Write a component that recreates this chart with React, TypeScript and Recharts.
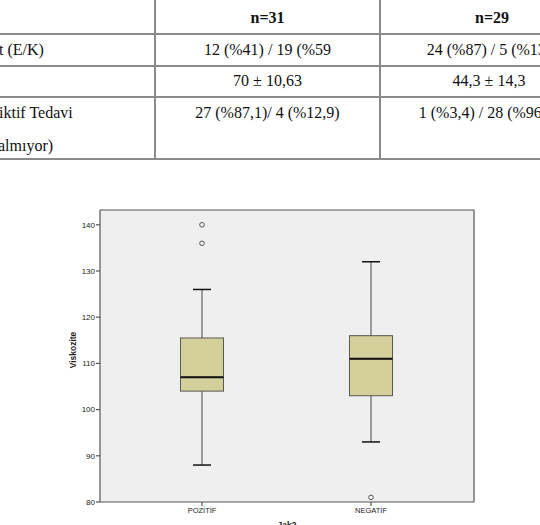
import React from "react";
import {
  ComposedChart,
  Bar,
  Scatter,
  XAxis,
  YAxis,
  CartesianGrid,
  Label,
} from "recharts";

// table (top of the page, cut off on both sides)
const headerCounts = ["n=31", "n=29"];
const rowLabels = ["t (E/K)", "", "iktif Tedavi"];
const colPositive = ["12 (%41) / 19 (%59", "70 ± 10,63", "27 (%87,1)/ 4 (%12,9)"];
const colNegative = ["24 (%87) / 5 (%13)", "44,3 ± 14,3", "1 (%3,4) / 28 (%96,6)"];
const lastRowSecondLine = "almıyor)";

// boxplot
const groups = ["POZİTİF", "NEGATİF"];
const whiskerLow = [88, 93];
const q1 = [104, 103];
const median = [107, 111];
const q3 = [115.5, 116];
const whiskerHigh = [126, 132];

const outlierGroups = ["POZİTİF", "POZİTİF", "NEGATİF"];
const outlierValues = [140, 136, 81];

const yTicks = [80, 90, 100, 110, 120, 130, 140];

const rows = groups.map((g, i) => ({
  group: g,
  base: whiskerLow[i],
  lowW: q1[i] - whiskerLow[i],
  lowBox: median[i] - q1[i],
  upBox: q3[i] - median[i],
  upW: whiskerHigh[i] - q3[i],
}));

const outliers = outlierGroups.map((g, i) => ({ group: g, v: outlierValues[i] }));

const BOX = "#d3d09b";
const EDGE = "#5a5a50";
const CAP = 9;

function LowWhisker(p: any) {
  const cx = p.x + p.width / 2;
  const bottom = p.y + p.height;
  return (
    <g>
      <line x1={cx} x2={cx} y1={p.y} y2={bottom} stroke="#444" />
      <line x1={cx - CAP} x2={cx + CAP} y1={bottom} y2={bottom} stroke="#111" strokeWidth={1.5} />
    </g>
  );
}

function HighWhisker(p: any) {
  const cx = p.x + p.width / 2;
  return (
    <g>
      <line x1={cx} x2={cx} y1={p.y} y2={p.y + p.height} stroke="#444" />
      <line x1={cx - CAP} x2={cx + CAP} y1={p.y} y2={p.y} stroke="#111" strokeWidth={1.5} />
    </g>
  );
}

function LowerBox(p: any) {
  return <rect x={p.x} y={p.y} width={p.width} height={p.height} fill={BOX} stroke={EDGE} />;
}

function UpperBox(p: any) {
  const bottom = p.y + p.height;
  return (
    <g>
      <rect x={p.x} y={p.y} width={p.width} height={p.height} fill={BOX} stroke={EDGE} />
      <line x1={p.x} x2={p.x + p.width} y1={bottom} y2={bottom} stroke="#111" strokeWidth={2} />
    </g>
  );
}

function Outlier(p: any) {
  return <circle cx={p.cx} cy={p.cy} r={2.3} fill="#f2f2f2" stroke="#555" strokeWidth={1} />;
}

function YTitle(props: any) {
  const vb = props.viewBox;
  const x = vb.x + 73;
  const y = vb.y + vb.height / 2 - 6;
  return (
    <text
      x={x}
      y={y}
      transform={`rotate(-90 ${x} ${y})`}
      textAnchor="middle"
      dominantBaseline="central"
      fontSize={8.5}
      fontWeight={700}
      fill="#222"
    >
      Viskozite
    </text>
  );
}

function XTitle(props: any) {
  const vb = props.viewBox;
  return (
    <text
      x={vb.x + vb.width / 2}
      y={vb.y + 20}
      textAnchor="middle"
      dominantBaseline="hanging"
      fontSize={8.5}
      fontWeight={700}
      fill="#222"
    >
      Jak2
    </text>
  );
}

function Txt(props: { x: number; y: number; text: string; bold?: boolean }) {
  return (
    <div
      style={{
        position: "absolute",
        left: props.x,
        top: props.y - 8,
        fontSize: 16,
        lineHeight: "16px",
        whiteSpace: "nowrap",
        fontWeight: props.bold ? 700 : 400,
      }}
    >
      {props.text}
    </div>
  );
}

function Centered(props: { cx: number; y: number; text: string; bold?: boolean }) {
  return (
    <div
      style={{
        position: "absolute",
        left: props.cx - 150,
        width: 300,
        textAlign: "center",
        top: props.y - 8,
        fontSize: 16,
        lineHeight: "16px",
        whiteSpace: "nowrap",
        fontWeight: props.bold ? 700 : 400,
      }}
    >
      {props.text}
    </div>
  );
}

const line = "#8a8a8a";

// frame of the plot area: top edge and right edge
const topEdge = ({ offset }: any) => [offset.top];
const rightEdge = ({ offset }: any) => [offset.left + offset.width];

export default function App() {
  const rowY = [50, 81, 113];
  return (
    <div
      style={{
        position: "absolute",
        left: 0,
        top: 0,
        width: 540,
        height: 525,
        overflow: "hidden",
        background: "#fff",
        color: "#111",
        fontFamily: "'Liberation Serif', 'Times New Roman', serif",
      }}
    >
      {/* table grid */}
      {[32.5, 65, 96, 158].map((y) => (
        <div key={y} style={{ position: "absolute", left: 0, top: y, width: 540, height: 2, background: line }} />
      ))}
      {[154, 379].map((x) => (
        <div key={x} style={{ position: "absolute", left: x, top: 0, width: 2, height: 160, background: line }} />
      ))}

      <Centered cx={267.5} y={18.3} text={headerCounts[0]} bold />
      <Centered cx={492} y={18.3} text={headerCounts[1]} bold />
      {rowLabels.map((t, i) => (t ? <Txt key={i} x={-1} y={rowY[i]} text={t} /> : null))}
      {colPositive.map((t, i) => (
        <Centered key={i} cx={267.5} y={rowY[i]} text={t} />
      ))}
      {colNegative.map((t, i) => (
        <Centered key={i} cx={489} y={rowY[i]} text={t} />
      ))}
      <Txt x={-2} y={145.5} text={lastRowSecondLine} />

      {/* boxplot */}
      <div style={{ position: "absolute", left: 0, top: 190 }}>
        <ComposedChart
          width={540}
          height={345}
          data={rows}
          margin={{ top: 20, right: 66, bottom: 0, left: 0 }}
          barSize={43}
          style={{ fontFamily: "'Liberation Sans', Arial, sans-serif" }}
        >
          <CartesianGrid
            fill="#efefef"
            stroke="#555"
            strokeWidth={1.2}
            horizontalCoordinatesGenerator={topEdge}
            verticalCoordinatesGenerator={rightEdge}
          />
          <XAxis
            dataKey="group"
            allowDuplicatedCategory={false}
            padding={{ left: 17.5, right: 18.5 }}
            height={33}
            tickSize={4}
            tickMargin={2}
            tick={{ fontSize: 7.5, fill: "#222" }}
            stroke="#555"
            strokeWidth={1.2}
          >
            <Label content={XTitle} />
          </XAxis>
          <YAxis
            domain={[80, 143.2]}
            ticks={yTicks}
            allowDataOverflow
            width={100}
            tickSize={4}
            tickMargin={1}
            tick={{ fontSize: 8, fill: "#222" }}
            stroke="#555"
            strokeWidth={1.2}
          >
            <Label content={YTitle} />
          </YAxis>
          <Bar dataKey="base" stackId="box" fill="none" isAnimationActive={false} />
          <Bar dataKey="lowW" stackId="box" shape={LowWhisker} isAnimationActive={false} />
          <Bar dataKey="lowBox" stackId="box" shape={LowerBox} isAnimationActive={false} />
          <Bar dataKey="upBox" stackId="box" shape={UpperBox} isAnimationActive={false} />
          <Bar dataKey="upW" stackId="box" shape={HighWhisker} isAnimationActive={false} />
          <Scatter data={outliers} dataKey="v" shape={Outlier} isAnimationActive={false} />
        </ComposedChart>
      </div>
    </div>
  );
}
